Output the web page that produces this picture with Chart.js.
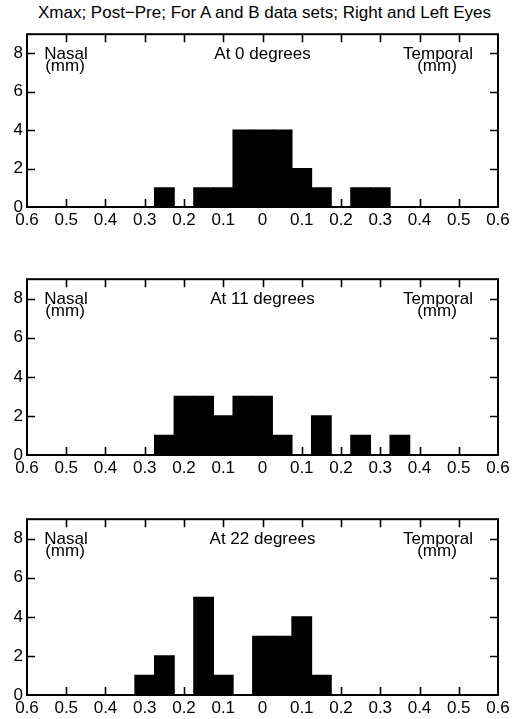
<!DOCTYPE html>
<html>
<head>
<meta charset="utf-8">
<script src="https://cdn.jsdelivr.net/npm/chart.js@4.4.1/dist/chart.umd.min.js"></script>
<style>
  body { margin: 0; background: #fff; width: 529px; height: 719px; overflow: hidden; position: relative;
         font-family: "Liberation Sans", Arial, sans-serif; }
  #title { position: absolute; top: 3px; left: 0; width: 529px; text-align: center; font-size: 17px; line-height: 20px; }
  canvas { position: absolute; left: 0; }
</style>
</head>
<body>
<div id="title">Xmax; Post&minus;Pre; For A and B data sets; Right and Left Eyes</div>
<canvas id="c0"></canvas>
<canvas id="c1"></canvas>
<canvas id="c2"></canvas>
<script>
// bin centres (mm), nasal side negative
const binCenters = [-0.35, -0.3, -0.25, -0.2, -0.15, -0.1, -0.05, 0, 0.05, 0.1, 0.15, 0.2, 0.25, 0.3, 0.35];
const counts0 = [0, 0, 1, 0, 1, 1, 4, 4, 4, 2, 1, 0, 1, 1, 0];
const counts11 = [0, 0, 1, 3, 3, 2, 3, 3, 1, 0, 2, 0, 1, 0, 1];
const counts22 = [0, 1, 2, 0, 5, 1, 0, 3, 3, 4, 1, 0, 0, 0, 0];
const panelTitles = ['At 0 degrees', 'At 11 degrees', 'At 22 degrees'];
const xTicks = [-0.6, -0.5, -0.4, -0.3, -0.2, -0.1, 0, 0.1, 0.2, 0.3, 0.4, 0.5, 0.6];
const yTicks = [0, 2, 4, 6, 8];

const panels = [counts0, counts11, counts22];
const plotTop = [32, 277, 517];
const plotBottom = [207, 455, 695];
const padTop = 12, axisH = 24;
const FONT = '"Liberation Sans", Arial, sans-serif';

// inward ticks, frame and the in-panel labels
const framePlugin = {
  id: 'frame',
  afterDatasetsDraw(chart, args, opts) {
    const { ctx, chartArea: a, scales: { x, y } } = chart;
    ctx.save();
    ctx.strokeStyle = '#000';
    ctx.lineWidth = 1.6;
    ctx.beginPath();
    xTicks.forEach(v => {
      if (v === xTicks[0] || v === xTicks[xTicks.length - 1]) return;
      const px = Math.round(x.getPixelForValue(v)) + 0.5;
      ctx.moveTo(px, a.top); ctx.lineTo(px, a.top + 8);
      ctx.moveTo(px, a.bottom); ctx.lineTo(px, a.bottom - 8);
    });
    yTicks.forEach(v => {
      if (v === 0) return;
      const py = Math.round(y.getPixelForValue(v)) + 0.5;
      ctx.moveTo(a.left, py); ctx.lineTo(a.left + 8, py);
      ctx.moveTo(a.right, py); ctx.lineTo(a.right - 8, py);
    });
    ctx.stroke();
    ctx.lineWidth = 2;
    ctx.strokeRect(a.left, a.top, a.right - a.left, a.bottom - a.top);

    ctx.fillStyle = '#000';
    ctx.font = '17px ' + FONT;
    ctx.textAlign = 'center';
    ctx.textBaseline = 'middle';
    ctx.fillText('Nasal', a.left + 39, a.top + 20);
    ctx.fillText('(mm)', a.left + 38, a.top + 32);
    ctx.fillText('Temporal', a.right - 60, a.top + 20);
    ctx.fillText('(mm)', a.right - 61, a.top + 32);
    ctx.fillText(opts.label, x.getPixelForValue(0), a.top + 20);
    ctx.restore();
  }
};

panels.forEach((counts, i) => {
  const cv = document.getElementById('c' + i);
  const h = padTop + (plotBottom[i] - plotTop[i]) + axisH;
  cv.width = 529; cv.height = h;
  cv.style.top = (plotTop[i] - padTop) + 'px';
  cv.style.width = '529px'; cv.style.height = h + 'px';

  new Chart(cv.getContext('2d'), {
    type: 'bar',
    data: {
      datasets: [{
        data: binCenters.map((c, k) => ({ x: c, y: counts[k] })),
        backgroundColor: '#000',
        borderWidth: 0,
        inflateAmount: 0.6,
        barPercentage: 1,
        categoryPercentage: 1
      }]
    },
    options: {
      responsive: false,
      animation: false,
      events: [],
      layout: { padding: { top: padTop, right: 31, left: 0, bottom: 0 } },
      plugins: { legend: { display: false }, tooltip: { enabled: false }, frame: { label: panelTitles[i] } },
      scales: {
        x: {
          type: 'linear',
          min: -0.6, max: 0.6,
          offset: false,
          grid: { display: false, drawTicks: false, offset: false },
          border: { display: false },
          afterBuildTicks: s => { s.ticks = xTicks.map(v => ({ value: v })); },
          afterFit: s => { s.height = axisH; },
          ticks: {
            padding: 3,
            maxRotation: 0,
            autoSkip: false,
            color: '#000',
            font: { family: FONT, size: 17 },
            callback: v => (Math.abs(v) < 1e-9 ? '0' : Math.abs(v).toFixed(1))
          }
        },
        y: {
          min: 0, max: 9,
          grid: { display: false, drawTicks: false },
          border: { display: false },
          afterBuildTicks: s => { s.ticks = yTicks.map(v => ({ value: v })); },
          afterFit: s => { s.width = 27; },
          ticks: { padding: 4, color: '#000', font: { family: FONT, size: 17 } }
        }
      }
    },
    plugins: [framePlugin]
  });
});
</script>
</body>
</html>
